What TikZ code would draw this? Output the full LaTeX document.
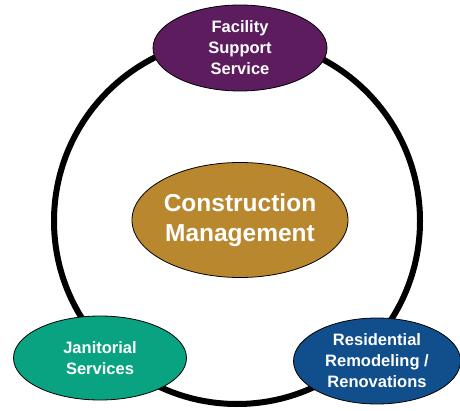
\documentclass[tikz,border=0pt]{standalone}
\usepackage{fontspec}
\setmainfont{Liberation Sans}
\usetikzlibrary{shapes.geometric}
\tikzset{
  ring/.style={line width=6pt, black},
  bubble/.style={ellipse, draw=black, line width=0.8pt, text=white, align=center,
    font=\bfseries\fontsize{16.5}{21}\selectfont, inner sep=0pt},
  hub/.style={bubble, font=\bfseries\fontsize{24.5}{30}\selectfont},
}
\definecolor{plum}{RGB}{92,28,94}
\definecolor{ochre}{RGB}{184,135,46}
\definecolor{jade}{RGB}{10,163,130}
\definecolor{navy}{RGB}{16,78,140}

\begin{document}
\begin{tikzpicture}[x=1pt,y=1pt]
  \useasboundingbox (0,0) rectangle (460,410);
  % outer ring
  \draw[ring] (237,189) circle (183);
  % centre
  \node[hub, fill=ochre, minimum width=216, minimum height=115] (cm) at (240,190)
    {Construction\\Management};
  % satellites
  \node[bubble, fill=plum, minimum width=174, minimum height=86] (fss) at (240,362)
    {Facility\\Support\\Service};
  \node[bubble, fill=jade, minimum width=173, minimum height=84] (jan) at (100,52)
    {Janitorial\\Services};
  \node[bubble, fill=navy, minimum width=167, minimum height=86] (res) at (377,49)
    {Residential\\Remodeling /\\Renovations};
\end{tikzpicture}
\end{document}
